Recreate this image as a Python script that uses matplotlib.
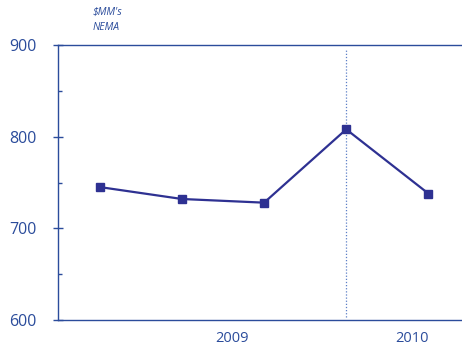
import matplotlib.pyplot as plt
from matplotlib.ticker import MultipleLocator

# Data
quarters = [0, 1, 2, 3, 4]
values = [745, 732, 728, 808, 738]
year_labels = ["2009", "2010"]
year_positions = [1.61, 3.8]

line_color = "#2E3192"
axis_color = "#2B4C9B"

plt.rcParams["font.family"] = ["Open Sans", "DejaVu Sans"]

fig = plt.figure(figsize=(4.62, 3.49), dpi=100)
ax = fig.add_axes([58 / 462, 1 - 320 / 349, 1 - 58 / 462, (320 - 45) / 349])

ax.plot(quarters, values, color=line_color, linewidth=1.6,
        marker="s", markersize=6, markerfacecolor=line_color,
        markeredgecolor=line_color, zorder=3)

# dotted year separator
ax.vlines(3, 603, 896, colors="#5B7FC7", linestyles=(0, (1, 1.5)), linewidth=0.9)

ax.set_xlim(-0.51, 4.41)
ax.set_ylim(600, 900)

ax.spines["right"].set_visible(False)
for side in ["left", "top", "bottom"]:
    ax.spines[side].set_color(axis_color)
    ax.spines[side].set_linewidth(1.0)

ax.yaxis.set_major_locator(MultipleLocator(100))
ax.yaxis.set_minor_locator(MultipleLocator(50))
ax.tick_params(axis="y", which="major", direction="inout", length=7, width=1,
               color=axis_color, labelcolor=axis_color, labelsize=11.5, pad=12)
ax.tick_params(axis="y", which="minor", direction="in", length=3, width=1,
               color=axis_color)

ax.set_xticks(year_positions)
ax.set_xticklabels(year_labels)
ax.tick_params(axis="x", length=0, labelcolor=axis_color, labelsize=10.5, pad=8)

fig.text(93 / 462, 1 - 12 / 349, "$MM's", style="italic", fontsize=7.5,
         color=axis_color, va="center", ha="left")
fig.text(93 / 462, 1 - 27 / 349, "NEMA", style="italic", fontsize=7.5,
         color=axis_color, va="center", ha="left")

fig.savefig("out.png", dpi=100)
